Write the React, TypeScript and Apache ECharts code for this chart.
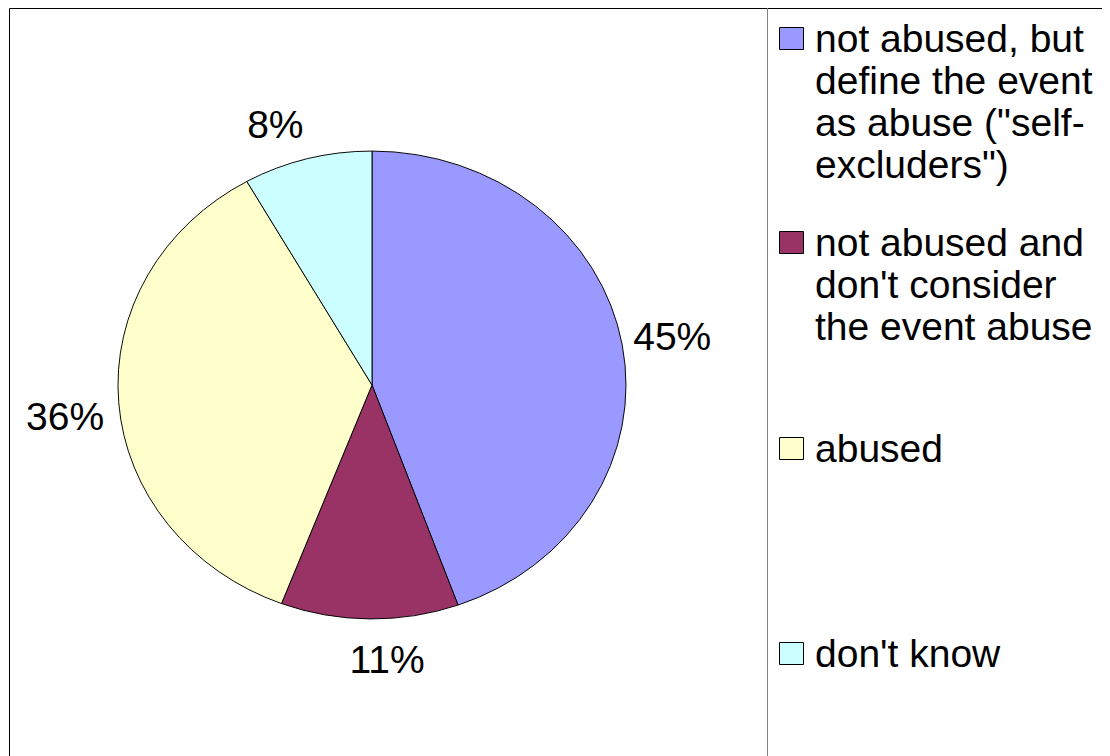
import React, { useEffect, useRef } from "react";
import * as echarts from "echarts";

// ---- data ----
const categories = [
  'not abused, but\ndefine the event\nas abuse ("self-\nexcluders")',
  "not abused and\ndon't consider\nthe event abuse",
  "abused",
  "don't know",
];
const values = [44.5, 11.3, 36.0, 8.2];
const colors = ["#9999FF", "#993366", "#FFFFCC", "#CCFFFF"];

// ---- layout (not data) ----
const CX = 364;
const CY = 377;
const RX = 254;
const RY = 234;
const LABEL_K = 1.2;
const labelNudge = [
  [0, 0],
  [18, -6],
  [-3, 10],
  [-19, 11],
];
const legendIconCenters = [30, 234.5, 440, 645.7];
const LEGEND_X = 771;
const FONT = "'Liberation Sans', Arial, sans-serif";
const FS = 39;
const LH = 42;

export default function App() {
  const ref = useRef<HTMLDivElement>(null);
  useEffect(() => {
    if (!ref.current) return;
    const chart = echarts.init(ref.current, undefined, { renderer: "svg" });
    const total = values.reduce((a, b) => a + b, 0);

    const series = categories.map((name, i) => ({
      type: "custom",
      name,
      coordinateSystem: "none",
      itemStyle: { color: colors[i], borderColor: "#000", borderWidth: 1 },
      data: [{ name, value: [values[i]] }],
      renderItem: (params: any, api: any) => {
        const idx = params.seriesIndex;
        const start = values.slice(0, idx).reduce((a, b) => a + b, 0);
        const v = api.value(0);
        const a0 = (start / total) * Math.PI * 2;
        const a1 = ((start + v) / total) * Math.PI * 2;
        const mid = (a0 + a1) / 2;
        return {
          type: "group",
          children: [
            {
              type: "sector",
              x: CX,
              y: CY,
              scaleY: RY / RX,
              shape: {
                cx: 0,
                cy: 0,
                r0: 0,
                r: RX,
                startAngle: a0 - Math.PI / 2,
                endAngle: a1 - Math.PI / 2,
                clockwise: true,
              },
              style: {
                fill: colors[idx],
                stroke: "#000",
                lineWidth: 1,
                strokeNoScale: true,
              },
            },
            {
              type: "text",
              x: CX + LABEL_K * RX * Math.sin(mid) + labelNudge[idx][0],
              y: CY - LABEL_K * RY * Math.cos(mid) + labelNudge[idx][1],
              style: {
                text: Math.round(v) + "%",
                fontSize: FS,
                fontFamily: FONT,
                fill: "#000",
                align: "center",
                verticalAlign: "middle",
              },
            },
          ],
        };
      },
    }));

    const legendGraphics: any[] = [];
    categories.forEach((name, i) => {
      const c = legendIconCenters[i];
      legendGraphics.push({
        type: "rect",
        silent: true,
        shape: { x: LEGEND_X + 0.5, y: Math.round(c - 11.5) + 0.5, width: 24, height: 22 },
        style: { fill: colors[i], stroke: "#000", lineWidth: 1 },
      });
      legendGraphics.push({
        type: "text",
        silent: true,
        x: LEGEND_X + 36,
        y: c - LH / 2,
        style: {
          text: name,
          fontSize: FS,
          lineHeight: LH,
          fontFamily: FONT,
          fill: "#000",
          align: "left",
          verticalAlign: "top",
        },
      });
    });

    chart.setOption({
      animation: false,
      backgroundColor: "#fff",
      graphic: [
        {
          type: "rect",
          silent: true,
          shape: { x: 1.5, y: 0.5, width: 1400, height: 1200 },
          style: { fill: "none", stroke: "#000", lineWidth: 1 },
        },
        {
          type: "line",
          silent: true,
          shape: { x1: 759.5, y1: 0, x2: 759.5, y2: 748 },
          style: { stroke: "#808080", lineWidth: 1 },
        },
        ...legendGraphics,
      ],
      series,
    });
    return () => chart.dispose();
  }, []);
  return <div ref={ref} style={{ width: 1102, height: 748 }} />;
}
